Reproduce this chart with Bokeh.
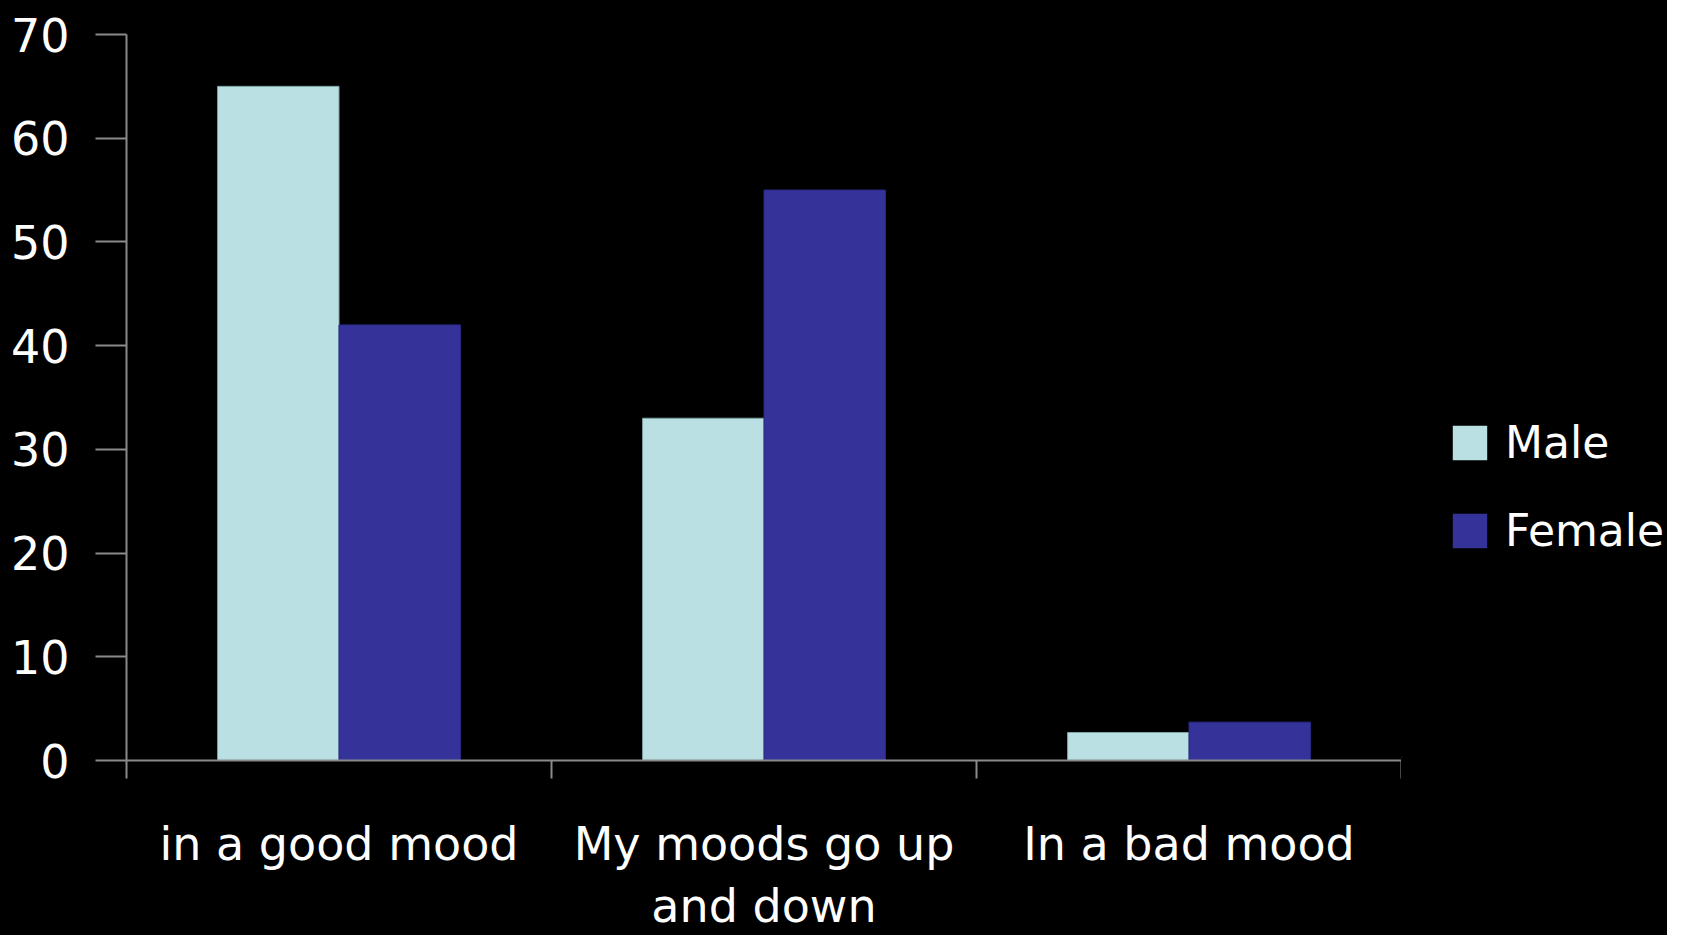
import numpy as np
from bokeh.plotting import figure
from bokeh.layouts import row
from bokeh.models import ColumnDataSource, Range1d, FixedTicker, Legend, LegendItem
from bokeh.transform import dodge
from bokeh.embed import file_html
from bokeh.resources import INLINE

categories = ["in a good mood", "My moods go up\nand down", "In a bad mood"]
series = ["Male", "Female"]
male = [65, 33, 2.7]
female = [42, 55, 3.7]
y_ticks = [0, 10, 20, 30, 40, 50, 60, 70]

FONT = "DejaVu Sans"
MALE_C = "#BAE0E3"
FEMALE_C = "#353399"
MALE_LINE = "#7fa2a5"
FEMALE_LINE = "#2a2a85"
AXIS_C = "#8a8a8a"

xc = np.arange(len(categories)) + 0.5
src = ColumnDataSource(dict(x=xc, male=male, female=female))

p = figure(frame_width=1275, frame_height=726, output_backend="svg", toolbar_location=None,
           x_range=Range1d(0, len(categories)), y_range=Range1d(0, 70),
           background_fill_color="black", border_fill_color="black",
           min_border_left=126, min_border_top=34, min_border_right=0, min_border_bottom=172)
p.outline_line_color = None

bw = 1 / 3.5
p.vbar(x=dodge("x", -bw / 2, range=p.x_range), top="male", width=bw, bottom=0, source=src,
       fill_color=MALE_C, line_color=MALE_LINE, line_width=1)
p.vbar(x=dodge("x", bw / 2, range=p.x_range), top="female", width=bw, bottom=0, source=src,
       fill_color=FEMALE_C, line_color=FEMALE_LINE, line_width=1)

p.xgrid.visible = False
p.ygrid.visible = False

# x axis: category labels at centers, ticks at boundaries
xa = p.xaxis[0]
xa.ticker = FixedTicker(ticks=list(xc), minor_ticks=list(range(len(categories) + 1)))
xa.major_label_overrides = {float(x): c for x, c in zip(xc, categories)}
xa.major_tick_out = 0
xa.major_tick_in = 0
xa.minor_tick_out = 18
xa.minor_tick_in = 0
xa.minor_tick_line_color = AXIS_C
xa.minor_tick_line_width = 2
xa.axis_line_color = AXIS_C
xa.axis_line_width = 2
xa.major_label_text_font = FONT
xa.major_label_text_font_size = "46px"
xa.major_label_text_color = "white"
xa.major_label_text_line_height = 1.15
xa.major_label_standoff = 38

ya = p.yaxis[0]
ya.ticker = FixedTicker(ticks=y_ticks)
ya.major_tick_out = 31
ya.major_tick_in = 0
ya.minor_tick_out = 0
ya.minor_tick_in = 0
ya.major_tick_line_color = AXIS_C
ya.major_tick_line_width = 2
ya.axis_line_color = AXIS_C
ya.axis_line_width = 2
ya.major_label_text_font = FONT
ya.major_label_text_font_size = "46px"
ya.major_label_text_color = "white"
ya.major_label_standoff = 26

# legend panel as a separate figure to the right (bars kept far out of its view)
q = figure(width=266, height=932, output_backend="svg", toolbar_location=None,
           x_range=Range1d(1000, 2000), y_range=Range1d(1000, 2000),
           background_fill_color="black", border_fill_color="black",
           min_border=0, outline_line_color=None)
q.axis.visible = False
q.grid.visible = False
r_m = q.vbar(x="x", top="male", width=bw, source=src, fill_color=MALE_C, line_color=None)
r_f = q.vbar(x="x", top="female", width=bw, source=src, fill_color=FEMALE_C, line_color=None)
lg = Legend(items=[LegendItem(label=series[0], renderers=[r_m]),
                   LegendItem(label=series[1], renderers=[r_f])],
            location=(47, 201))
lg.background_fill_alpha = 0
lg.border_line_color = None
lg.padding = 0
lg.margin = 0
lg.glyph_width = 43
lg.glyph_height = 43
lg.label_height = 34
lg.spacing = 37
lg.label_standoff = 14
lg.label_text_font = FONT
lg.label_text_font_size = "44px"
lg.label_text_color = "white"
lg.label_text_baseline = "middle"
q.add_layout(lg, "center")

layout = row(p, q, spacing=0, styles={"background-color": "black"})
open("out.html", "w").write(file_html(layout, INLINE))
